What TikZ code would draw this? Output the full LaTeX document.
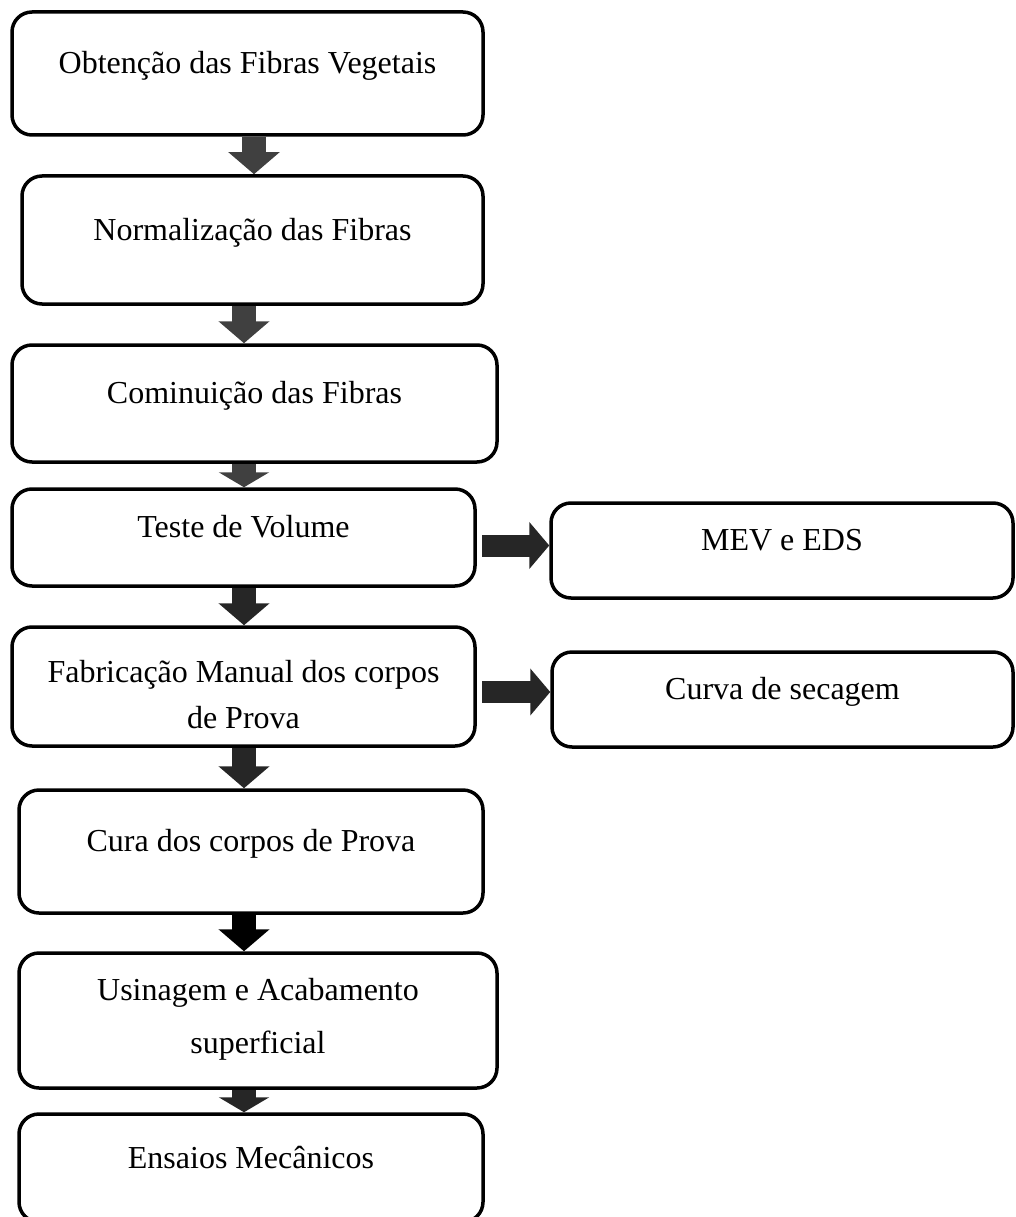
\documentclass[tikz,border=0pt]{standalone}
\usepackage{fontspec}
\setmainfont{Liberation Serif}
\usetikzlibrary{arrows.meta}
\definecolor{arrowgray}{HTML}{404040}
\definecolor{arrowdark}{HTML}{262626}
\begin{document}
\begin{tikzpicture}[x=1pt,y=-1pt,
                box/.style={draw,line width=3.5pt,rounded corners=20pt,inner sep=0pt,
                align=center,font=\fontsize{32}{46}\selectfont},
                one/.style={text height=22pt,text depth=22pt},
                flow/.style={line width=24pt,-{Triangle[width=50pt,length=22pt]}},
                short/.style={-{Triangle[width=50pt,length=15pt]}},
                side/.style={line width=22pt,draw=arrowdark,-{Triangle[width=46pt,length=20pt]}}]
                \useasboundingbox (0,0) rectangle (1015,1217);
                \node (obtencao) at (247.5,73.5) [box,one,minimum width=471pt,minimum height=123pt] {Obtenção das Fibras Vegetais};
                \node (normalizacao) at (252.5,240) [box,one,minimum width=461pt,minimum height=128pt] {Normalização das Fibras};
                \node (cominuicao) at (254.5,403.5) [box,one,minimum width=485pt,minimum height=117pt] {Cominuição das Fibras};
                \node (teste) at (243.5,537.5) [box,one,minimum width=463pt,minimum height=97pt] {Teste de Volume};
                \node (fabricacao) at (243.5,686.5) [box,minimum width=463pt,minimum height=119pt,
                    text height=90pt,text depth=7pt] {Fabricação Manual dos corpos\\de Prova};
                \node (cura) at (251,851.5) [box,one,minimum width=464pt,minimum height=123pt] {Cura dos corpos de Prova};
                \node (usinagem) at (258,1020.5) [box,minimum width=478pt,minimum height=135pt,
                    font=\fontsize{32}{53}\selectfont,text height=72pt,text depth=7pt] {Usinagem e Acabamento\\superficial};
                \node (ensaios) at (251,1168) [box,one,minimum width=464pt,minimum height=108pt] {Ensaios Mecânicos};
                \node (mev) at (782,550.5) [box,one,minimum width=462pt,minimum height=95pt] {MEV e EDS};
                \node (curva) at (782.5,699.5) [box,one,minimum width=461pt,minimum height=95pt] {Curva de secagem};
                \coordinate (axistop) at (254,0);
                \coordinate (axis) at (244,0);
                \draw[flow,draw=arrowgray] (obtencao.south -| axistop) -- (normalizacao.north -| axistop);
                \draw[flow,draw=arrowgray] (normalizacao.south -| axis) -- (cominuicao.north -| axis);
                \draw[flow,short,draw=arrowgray] (cominuicao.south -| axis) -- (teste.north -| axis);
                \draw[flow,draw=arrowdark] (teste.south -| axis) -- (fabricacao.north -| axis);
                \draw[flow,draw=arrowdark] (fabricacao.south -| axis) -- (cura.north -| axis);
                \draw[flow,draw=black] (cura.south -| axis) -- (usinagem.north -| axis);
                \draw[flow,short,draw=arrowdark] (usinagem.south -| axis) -- (ensaios.north -| axis);
                \draw[side] ([xshift=5.5pt,yshift=-8pt]teste.east) -- ([yshift=-8pt]teste.east -| mev.west);
                \draw[side] ([xshift=5.5pt,yshift=-5.5pt]fabricacao.east) -- ([yshift=-5.5pt]fabricacao.east -| curva.west);
            \end{tikzpicture}
\end{document}
